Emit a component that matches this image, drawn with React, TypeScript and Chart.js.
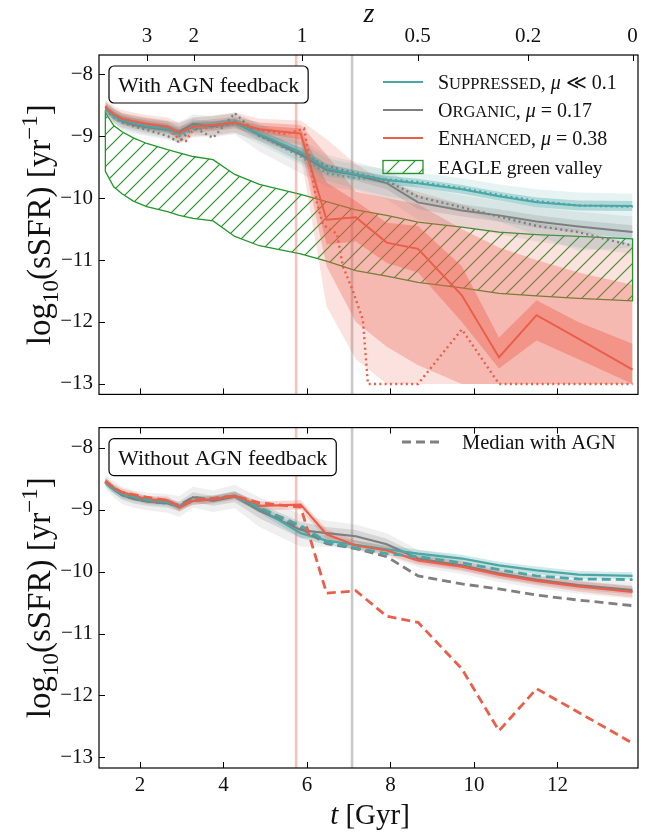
import React, { useEffect, useRef } from 'react';
import { Chart, registerables } from 'chart.js';
Chart.register(...registerables);

// ---------- data ----------
const TIME = [1.17, 1.37, 1.57, 1.84, 2.16, 2.66, 2.94, 3.27, 3.75, 4.27, 4.86, 5.85, 6.47, 7.17, 7.91, 8.66, 9.71, 10.6, 11.5, 12.5, 13.8];

const X_TICKS = [2, 4, 6, 8, 10, 12];
const Y_TICKS = [-8, -9, -10, -11, -12, -13];
const Z_LABELS = ['3', '2', '1', '0.5', '0.2', '0'];
const Z_TICK_T = [2.17, 3.29, 5.88, 8.65, 11.3, 13.8];
const T_AGN_LINE = 5.74;
const T_GRAY_LINE = 7.08;

// With AGN feedback
const TEAL_AGN = [-8.56, -8.68, -8.74, -8.79, -8.84, -8.88, -8.96, -8.84, -8.82, -8.78, -8.97, -9.26, -9.52, -9.62, -9.71, -9.76, -9.86, -9.97, -10.07, -10.12, -10.13];
const TEAL_AGN_HI1 = [-8.5, -8.62, -8.68, -8.73, -8.78, -8.82, -8.9, -8.78, -8.76, -8.72, -8.91, -9.19, -9.45, -9.55, -9.64, -9.69, -9.79, -9.9, -9.99, -10.04, -10.05];
const TEAL_AGN_LO1 = [-8.62, -8.74, -8.8, -8.85, -8.9, -8.94, -9.02, -8.9, -8.88, -8.84, -9.03, -9.33, -9.59, -9.69, -9.78, -9.83, -9.93, -10.04, -10.15, -10.2, -10.21];
const TEAL_AGN_HI2 = [-8.45, -8.56, -8.62, -8.66, -8.7, -8.74, -8.8, -8.7, -8.68, -8.64, -8.82, -9.1, -9.36, -9.46, -9.54, -9.59, -9.68, -9.78, -9.86, -9.91, -9.93];
const TEAL_AGN_LO2 = [-8.68, -8.8, -8.88, -8.93, -8.98, -9.03, -9.12, -9.0, -8.98, -8.94, -9.13, -9.46, -9.72, -9.85, -9.97, -10.05, -10.2, -10.38, -10.6, -10.85, -10.8];

const GRAY_AGN = [-8.55, -8.66, -8.76, -8.82, -8.86, -8.9, -8.93, -8.8, -8.84, -8.78, -8.98, -9.3, -9.55, -9.63, -9.76, -10.07, -10.2, -10.28, -10.38, -10.46, -10.55];
const GRAY_AGN_HI1 = [-8.5, -8.6, -8.7, -8.76, -8.8, -8.83, -8.86, -8.73, -8.77, -8.71, -8.9, -9.18, -9.45, -9.55, -9.66, -9.95, -10.1, -10.18, -10.28, -10.36, -10.44];
const GRAY_AGN_LO1 = [-8.6, -8.72, -8.82, -8.88, -8.92, -8.97, -9.0, -8.87, -8.91, -8.85, -9.08, -9.42, -9.65, -9.72, -9.86, -10.18, -10.3, -10.38, -10.48, -10.56, -10.66];
const GRAY_AGN_HI2 = [-8.45, -8.55, -8.64, -8.7, -8.73, -8.76, -8.78, -8.65, -8.68, -8.62, -8.8, -9.05, -9.3, -9.42, -9.55, -9.82, -9.95, -10.05, -10.15, -10.22, -10.3];
const GRAY_AGN_LO2 = [-8.66, -8.78, -8.9, -8.96, -9.0, -9.06, -9.1, -8.97, -9.02, -8.97, -9.25, -9.6, -9.82, -9.88, -10.02, -10.35, -10.48, -10.58, -10.7, -10.8, -10.9];

const RED_AGN = [-8.54, -8.65, -8.72, -8.76, -8.8, -8.85, -8.95, -8.85, -8.82, -8.78, -8.89, -8.96, -10.35, -10.31, -10.72, -10.82, -11.57, -12.57, -11.89, -12.27, -12.77];
const RED_AGN_HI1 = [-8.5, -8.6, -8.67, -8.71, -8.75, -8.8, -8.9, -8.8, -8.77, -8.73, -8.83, -8.88, -9.75, -10.05, -10.4, -10.45, -11.1, -12.25, -11.65, -12.0, -12.35];
const RED_AGN_LO1 = [-8.58, -8.7, -8.77, -8.81, -8.85, -8.9, -9.0, -8.9, -8.87, -8.83, -8.95, -9.05, -10.75, -10.7, -11.05, -11.2, -12.0, -12.75, -12.3, -12.6, -13.0];
const RED_AGN_HI2 = [-8.46, -8.56, -8.63, -8.67, -8.71, -8.76, -8.85, -8.76, -8.73, -8.69, -8.78, -8.82, -9.3, -9.9, -10.0, -10.1, -10.5, -10.8, -11.0, -11.2, -11.4];
const RED_AGN_LO2 = [-8.62, -8.74, -8.81, -8.85, -8.9, -8.95, -9.05, -8.95, -8.92, -8.88, -9.0, -9.15, -11.1, -12.0, -12.4, -12.7, -13.0, -13.0, -13.0, -13.0, -13.0];
const RED_AGN_HI3 = [-8.42, -8.52, -8.58, -8.62, -8.66, -8.7, -8.78, -8.7, -8.67, -8.62, -8.72, -8.75, -9.05, -9.45, -9.75, -9.9, -10.1, -10.3, -10.4, -10.5, -10.75];
const RED_AGN_LO3 = [-8.66, -8.78, -8.86, -8.9, -8.95, -9.0, -9.12, -9.02, -9.0, -8.95, -9.08, -9.3, -11.75, -12.6, -13.0, -13.0, -13.0, -13.0, -13.0, -13.0, -13.0];

const TEAL_DOT = [-8.58, -8.7, -8.78, -8.82, -8.86, -8.9, -9.0, -8.9, -8.84, -8.76, -8.99, -9.33, -9.6, -9.68, -9.7, -9.74, -9.84, -9.95, -10.05, -10.12, -10.14];
const GRAY_DOT = [-8.57, -8.68, -8.78, -8.84, -8.9, -9.0, -9.1, -8.85, -9.03, -8.63, -9.0, -9.28, -9.48, -9.6, -9.72, -9.98, -10.15, -10.3, -10.45, -10.55, -10.77];
const RED_DOT_T = [1.17, 1.37, 1.57, 1.84, 2.16, 2.66, 2.94, 3.1, 3.27, 3.75, 4.27, 4.86, 5.5, 5.93, 6.05, 6.24, 6.38, 6.72, 6.86, 7.1, 7.34, 7.46, 8.66, 9.71, 10.6, 13.8];
const RED_DOT = [-8.52, -8.66, -8.74, -8.8, -8.83, -8.88, -9.05, -9.08, -8.9, -8.86, -8.8, -8.9, -8.97, -8.88, -9.34, -10.08, -10.43, -10.58, -11.1, -11.5, -11.97, -13.0, -13.0, -12.12, -13.0, -13.0];

// EAGLE green valley
const GV_HI = [-8.62, -8.83, -8.93, -9.03, -9.12, -9.22, -9.27, -9.33, -9.38, -9.62, -9.78, -9.94, -10.06, -10.19, -10.28, -10.39, -10.47, -10.55, -10.59, -10.62, -10.66];
const GV_LO = [-9.57, -9.82, -9.93, -10.05, -10.14, -10.22, -10.28, -10.33, -10.37, -10.62, -10.77, -10.9, -11.02, -11.17, -11.26, -11.36, -11.45, -11.54, -11.58, -11.62, -11.66];

// Without AGN feedback
const TEAL_NO = [-8.56, -8.68, -8.76, -8.8, -8.85, -8.88, -8.95, -8.86, -8.83, -8.77, -8.98, -9.38, -9.5, -9.57, -9.64, -9.71, -9.79, -9.9, -9.98, -10.05, -10.07];
const TEAL_NO_HI = [-8.5, -8.62, -8.7, -8.74, -8.79, -8.82, -8.89, -8.8, -8.77, -8.71, -8.91, -9.3, -9.43, -9.5, -9.58, -9.65, -9.73, -9.84, -9.92, -9.99, -10.01];
const TEAL_NO_LO = [-8.62, -8.74, -8.82, -8.86, -8.91, -8.94, -9.01, -8.92, -8.89, -8.83, -9.05, -9.46, -9.57, -9.64, -9.7, -9.77, -9.85, -9.96, -10.04, -10.11, -10.13];
const GRAY_NO = [-8.55, -8.67, -8.77, -8.83, -8.87, -8.9, -8.95, -8.8, -8.86, -8.79, -9.02, -9.33, -9.38, -9.43, -9.56, -9.79, -9.9, -10.03, -10.13, -10.22, -10.3];
const GRAY_NO_HI = [-8.49, -8.6, -8.7, -8.76, -8.8, -8.83, -8.87, -8.72, -8.78, -8.7, -8.9, -9.2, -9.28, -9.33, -9.47, -9.72, -9.83, -9.96, -10.06, -10.15, -10.23];
const GRAY_NO_LO = [-8.61, -8.74, -8.84, -8.9, -8.94, -8.97, -9.03, -8.88, -8.94, -8.88, -9.14, -9.46, -9.48, -9.53, -9.65, -9.86, -9.97, -10.1, -10.2, -10.29, -10.37];
const GRAY_NO_HI2 = [-8.44, -8.54, -8.63, -8.69, -8.73, -8.75, -8.78, -8.63, -8.69, -8.6, -8.8, -9.08, -9.18, -9.24, -9.38, -9.65, -9.76, -9.9, -10.0, -10.09, -10.17];
const GRAY_NO_LO2 = [-8.66, -8.8, -8.91, -8.97, -9.01, -9.05, -9.12, -8.97, -9.04, -8.98, -9.28, -9.6, -9.6, -9.64, -9.75, -9.93, -10.04, -10.17, -10.27, -10.36, -10.44];
const RED_NO = [-8.54, -8.65, -8.72, -8.77, -8.84, -8.85, -8.97, -8.86, -8.84, -8.78, -8.94, -8.92, -9.4, -9.58, -9.66, -9.82, -9.92, -10.05, -10.15, -10.24, -10.33];
const RED_NO_HI = [-8.48, -8.59, -8.66, -8.71, -8.78, -8.79, -8.91, -8.8, -8.78, -8.72, -8.87, -8.85, -9.32, -9.5, -9.59, -9.75, -9.85, -9.98, -10.08, -10.16, -10.24];
const RED_NO_LO = [-8.6, -8.71, -8.78, -8.83, -8.9, -8.91, -9.03, -8.92, -8.9, -8.84, -9.01, -9.0, -9.48, -9.66, -9.73, -9.89, -9.99, -10.12, -10.22, -10.32, -10.42];

// ---------- style ----------
const FONT = "'Liberation Serif', 'DejaVu Serif', serif";
const TEAL = '#4aa7a6';
const GRAY = '#7f7f7f';
const RED = '#ea5e4a';
const GREEN = '#22962a';
const tealA = (a: number) => `rgba(74,167,166,${a})`;
const grayA = (a: number) => `rgba(127,127,127,${a})`;
const redA = (a: number) => `rgba(234,94,74,${a})`;

const X_MIN = 1.018;
const X_MAX = 13.93;
const TOP_Y = { min: -13.169, max: -7.692 };
const BOT_Y = { min: -13.17, max: -7.677 };
const TOP_OFF = 0;
const BOT_OFF = 409;

type Part = { t: string; s: number; it?: boolean; dy?: number };
const fnt = (p: Part) => `${p.it ? 'italic ' : ''}${p.s}px ${FONT}`;
function richWidth(ctx: CanvasRenderingContext2D, parts: Part[]) {
  let w = 0;
  for (const p of parts) { ctx.font = fnt(p); w += ctx.measureText(p.t).width; }
  return w;
}
function drawRich(ctx: CanvasRenderingContext2D, parts: Part[], x: number, y: number, center = false) {
  let cx = center ? x - richWidth(ctx, parts) / 2 : x;
  ctx.textAlign = 'left';
  ctx.textBaseline = 'alphabetic';
  for (const p of parts) {
    ctx.font = fnt(p);
    ctx.fillText(p.t, cx, y + (p.dy || 0));
    cx += ctx.measureText(p.t).width;
  }
}

function hatchPattern(ctx: CanvasRenderingContext2D) {
  const s = 16;
  const c = document.createElement('canvas');
  c.width = s; c.height = s;
  const g = c.getContext('2d')!;
  g.strokeStyle = GREEN;
  g.lineWidth = 1.2;
  g.beginPath();
  g.moveTo(-2, s + 2); g.lineTo(s + 2, -2);
  g.moveTo(-2, 2); g.lineTo(2, -2);
  g.moveTo(s - 2, s + 2); g.lineTo(s + 2, s - 2);
  g.stroke();
  return ctx.createPattern(c, 'repeat')!;
}

const pts = (xs: number[], ys: number[]) => xs.map((x, i) => ({ x, y: ys[i] }));

function band(lo: number[], hi: number[], color: string, order: number) {
  return [
    { data: pts(TIME, lo), borderWidth: 0, borderColor: 'transparent', backgroundColor: 'transparent', pointRadius: 0, fill: false, order, xAxisID: 'x', yAxisID: 'y' },
    { data: pts(TIME, hi), borderWidth: 0, borderColor: 'transparent', backgroundColor: color, pointRadius: 0, fill: '-1', order, xAxisID: 'x', yAxisID: 'y' },
  ];
}
function line(ys: number[], color: string, width: number, dash: number[], order: number, xs: number[] = TIME) {
  return { data: pts(xs, ys), borderColor: color, borderWidth: width, borderDash: dash, borderCapStyle: 'butt', pointRadius: 0, fill: false, order, xAxisID: 'x', yAxisID: 'y' };
}

function makePlugin(panel: 'top' | 'bottom') {
  const off = panel === 'top' ? TOP_OFF : BOT_OFF;
  return {
    id: 'decor_' + panel,
    beforeDatasetsDraw(chart: any) {
      const { ctx, chartArea: a, scales } = chart;
      const xs = scales.x, ys = scales.y;
      ctx.save();
      ctx.beginPath();
      ctx.rect(a.left, a.top, a.right - a.left, a.bottom - a.top);
      ctx.clip();
      if (panel === 'top') {
        ctx.beginPath();
        TIME.forEach((t, i) => {
          const px = xs.getPixelForValue(t), py = ys.getPixelForValue(GV_HI[i]);
          if (i === 0) ctx.moveTo(px, py); else ctx.lineTo(px, py);
        });
        for (let i = TIME.length - 1; i >= 0; i--) ctx.lineTo(xs.getPixelForValue(TIME[i]), ys.getPixelForValue(GV_LO[i]));
        ctx.closePath();
        ctx.fillStyle = hatchPattern(ctx);
        ctx.fill();
        ctx.strokeStyle = GREEN;
        ctx.lineWidth = 1.3;
        ctx.stroke();
      }
      ctx.lineWidth = 2.6;
      ctx.strokeStyle = redA(0.38);
      let vx = xs.getPixelForValue(T_AGN_LINE);
      ctx.beginPath(); ctx.moveTo(vx, a.top); ctx.lineTo(vx, a.bottom); ctx.stroke();
      ctx.strokeStyle = grayA(0.42);
      vx = xs.getPixelForValue(T_GRAY_LINE);
      ctx.beginPath(); ctx.moveTo(vx, a.top); ctx.lineTo(vx, a.bottom); ctx.stroke();
      ctx.restore();
    },
    afterDraw(chart: any) {
      const { ctx, chartArea: a, scales } = chart;
      const xs = scales.x, ys = scales.y;
      ctx.save();
      // frame
      ctx.strokeStyle = '#000';
      ctx.lineWidth = 1.2;
      ctx.strokeRect(a.left, a.top, a.right - a.left, a.bottom - a.top);
      // inward ticks
      ctx.lineWidth = 1;
      ctx.beginPath();
      for (const v of Y_TICKS) {
        const py = Math.round(ys.getPixelForValue(v)) + 0.5;
        ctx.moveTo(a.left, py); ctx.lineTo(a.left + 6, py);
      }
      for (const t of X_TICKS) {
        const px = Math.round(xs.getPixelForValue(t)) + 0.5;
        ctx.moveTo(px, a.bottom); ctx.lineTo(px, a.bottom - 6);
      }
      const topTicks = panel === 'top' ? Z_TICK_T : X_TICKS;
      for (const t of topTicks) {
        const px = Math.round(xs.getPixelForValue(t)) + 0.5;
        ctx.moveTo(px, a.top); ctx.lineTo(px, a.top + 6);
      }
      ctx.stroke();

      // annotation box
      const label = panel === 'top' ? 'With AGN feedback' : 'Without AGN feedback';
      ctx.font = `22px ${FONT}`;
      const tw = ctx.measureText(label).width;
      const bx = a.left + 10, by = a.top + 11, bw = tw + 18, bh = 37;
      ctx.beginPath();
      ctx.roundRect(bx, by, bw, bh, 5);
      ctx.fillStyle = '#fff';
      ctx.fill();
      ctx.strokeStyle = '#000';
      ctx.lineWidth = 1.2;
      ctx.stroke();
      ctx.fillStyle = '#111';
      drawRich(ctx, [{ t: label, s: 22 }], bx + 9, by + 26);

      // legend
      ctx.fillStyle = '#111';
      if (panel === 'top') {
        const rows: { color: string; parts: Part[] }[] = [
          { color: TEAL, parts: [{ t: 'S', s: 20 }, { t: 'UPPRESSED', s: 16.5 }, { t: ', ', s: 20 }, { t: 'μ', s: 20, it: true }, { t: ' ≪ 0.1', s: 20 }] },
          { color: GRAY, parts: [{ t: 'O', s: 20 }, { t: 'RGANIC', s: 16.5 }, { t: ', ', s: 20 }, { t: 'μ', s: 20, it: true }, { t: ' = 0.17', s: 20 }] },
          { color: RED, parts: [{ t: 'E', s: 20 }, { t: 'NHANCED', s: 16.5 }, { t: ', ', s: 20 }, { t: 'μ', s: 20, it: true }, { t: ' = 0.38', s: 20 }] },
        ];
        const rowY = [82, 110, 138];
        rows.forEach((r, i) => {
          const yy = rowY[i] - off;
          ctx.strokeStyle = r.color;
          ctx.lineWidth = 2;
          ctx.beginPath(); ctx.moveTo(383, yy); ctx.lineTo(423, yy); ctx.stroke();
          drawRich(ctx, r.parts, 438, yy + 7);
        });
        const gy = 167 - off;
        ctx.fillStyle = hatchPattern(ctx);
        ctx.fillRect(383, gy - 6.5, 40, 13);
        ctx.strokeStyle = GREEN;
        ctx.lineWidth = 1.3;
        ctx.strokeRect(383, gy - 6.5, 40, 13);
        ctx.fillStyle = '#111';
        drawRich(ctx, [{ t: 'EAGLE green valley', s: 19.5 }], 438, gy + 7);
        // z title
        drawRich(ctx, [{ t: 'z', s: 28, it: true }], 369, 22 - off, true);
      } else {
        const yy = 442 - off;
        ctx.strokeStyle = GRAY;
        ctx.lineWidth = 3;
        ctx.setLineDash([9, 5]);
        ctx.beginPath(); ctx.moveTo(402, yy); ctx.lineTo(444, yy); ctx.stroke();
        ctx.setLineDash([]);
        drawRich(ctx, [{ t: 'Median with AGN', s: 20.5 }], 462, yy + 7);
        // x title
        drawRich(ctx, [{ t: 't', s: 29, it: true }, { t: ' [Gyr]', s: 29 }], 370, 824 - off, true);
      }

      // y title
      const cy = (a.top + a.bottom) / 2;
      ctx.save();
      ctx.translate(50, cy);
      ctx.rotate(-Math.PI / 2);
      ctx.fillStyle = '#111';
      drawRich(ctx, [
        { t: 'log', s: 33 }, { t: '10', s: 23, dy: 8 }, { t: '(sSFR) [yr', s: 33 }, { t: '−1', s: 23, dy: -13 }, { t: ']', s: 33 },
      ], 0, 0, true);
      ctx.restore();
      ctx.restore();
    },
  };
}

const tickFont = { family: FONT, size: 21 };
const yFmt = (v: any) => (v < 0 ? '\u2212' + Math.abs(v) : String(v));

function makeConfig(panel: 'top' | 'bottom'): any {
  let datasets: any[];
  if (panel === 'top') {
    datasets = [
      ...band(RED_AGN_LO3, RED_AGN_HI3, redA(0.18), 30),
      ...band(RED_AGN_LO2, RED_AGN_HI2, redA(0.3), 29),
      ...band(RED_AGN_LO1, RED_AGN_HI1, redA(0.4), 28),
      ...band(GRAY_AGN_LO2, GRAY_AGN_HI2, grayA(0.12), 27),
      ...band(GRAY_AGN_LO1, GRAY_AGN_HI1, grayA(0.22), 26),
      ...band(TEAL_AGN_LO2, TEAL_AGN_HI2, tealA(0.14), 25),
      ...band(TEAL_AGN_LO1, TEAL_AGN_HI1, tealA(0.35), 24),
      line(RED_DOT, RED, 2.4, [2, 3.3], 5, RED_DOT_T),
      line(GRAY_DOT, GRAY, 2.4, [2, 3.3], 4),
      line(TEAL_DOT, TEAL, 2.4, [2, 3.3], 3),
      line(GRAY_AGN, GRAY, 2, [], 2),
      line(TEAL_AGN, TEAL, 2, [], 1),
      line(RED_AGN, RED, 2, [], 0),
    ];
  } else {
    datasets = [
      ...band(GRAY_NO_LO2, GRAY_NO_HI2, grayA(0.12), 30),
      ...band(GRAY_NO_LO, GRAY_NO_HI, grayA(0.22), 29),
      ...band(TEAL_NO_LO, TEAL_NO_HI, tealA(0.25), 28),
      ...band(RED_NO_LO, RED_NO_HI, redA(0.25), 27),
      line(GRAY_NO, GRAY, 2.2, [], 8),
      line(TEAL_NO, TEAL, 2.2, [], 7),
      line(RED_NO, RED, 2.2, [], 6),
      line(GRAY_AGN, GRAY, 2.8, [9, 5], 2),
      line(TEAL_AGN, TEAL, 2.8, [9, 5], 1),
      line(RED_AGN, RED, 2.8, [9, 5], 0),
    ];
  }
  const yr = panel === 'top' ? TOP_Y : BOT_Y;
  const scales: any = {
    y: {
      type: 'linear', position: 'left', min: yr.min, max: yr.max,
      afterBuildTicks: (s: any) => { s.ticks = Y_TICKS.map((v) => ({ value: v })); },
      afterFit: (s: any) => { s.width = 99; },
      grid: { display: false, drawTicks: false }, border: { display: false },
      ticks: { padding: 6, font: tickFont, color: '#111', callback: yFmt, autoSkip: false },
    },
  };
  if (panel === 'top') {
    scales.x = { type: 'linear', position: 'bottom', min: X_MIN, max: X_MAX, display: false };
    scales.xTop = {
      type: 'linear', position: 'top', min: X_MIN, max: X_MAX,
      afterBuildTicks: (s: any) => { s.ticks = Z_TICK_T.map((v) => ({ value: v })); },
      afterFit: (s: any) => { s.height = 55; },
      grid: { display: false, drawTicks: false }, border: { display: false },
      ticks: { padding: 6, font: tickFont, color: '#111', maxRotation: 0, autoSkip: false, callback: (_v: any, i: number) => Z_LABELS[i] },
    };
  } else {
    scales.x = {
      type: 'linear', position: 'bottom', min: X_MIN, max: X_MAX,
      afterBuildTicks: (s: any) => { s.ticks = X_TICKS.map((v) => ({ value: v })); },
      afterFit: (s: any) => { s.height = 65; },
      grid: { display: false, drawTicks: false }, border: { display: false },
      ticks: { padding: 5, font: tickFont, color: '#111', maxRotation: 0, autoSkip: false, callback: (v: any) => String(v) },
    };
  }
  return {
    type: 'line',
    data: { datasets },
    options: {
      responsive: false,
      animation: false,
      devicePixelRatio: 1,
      parsing: true,
      normalized: true,
      elements: { line: { tension: 0 }, point: { radius: 0 } },
      layout: { padding: panel === 'top' ? { top: 0, right: 9, bottom: 2, left: 0 } : { top: 2, right: 9, bottom: 0, left: 0 } },
      plugins: { legend: { display: false }, tooltip: { enabled: false }, filler: { propagate: false } },
      scales,
    },
    plugins: [makePlugin(panel)],
  };
}

export default function App() {
  const topRef = useRef<HTMLCanvasElement>(null);
  const botRef = useRef<HTMLCanvasElement>(null);
  useEffect(() => {
    const c1 = new Chart(topRef.current!, makeConfig('top'));
    const c2 = new Chart(botRef.current!, makeConfig('bottom'));
    return () => { c1.destroy(); c2.destroy(); };
  }, []);
  return (
    <div style={{ position: 'absolute', left: 0, top: 0, width: 647, height: 833, background: '#fff' }}>
      <canvas ref={topRef} width={647} height={413} style={{ position: 'absolute', left: 0, top: TOP_OFF, width: 647, height: 413 }} />
      <canvas ref={botRef} width={647} height={424} style={{ position: 'absolute', left: 0, top: BOT_OFF, width: 647, height: 424 }} />
    </div>
  );
}
